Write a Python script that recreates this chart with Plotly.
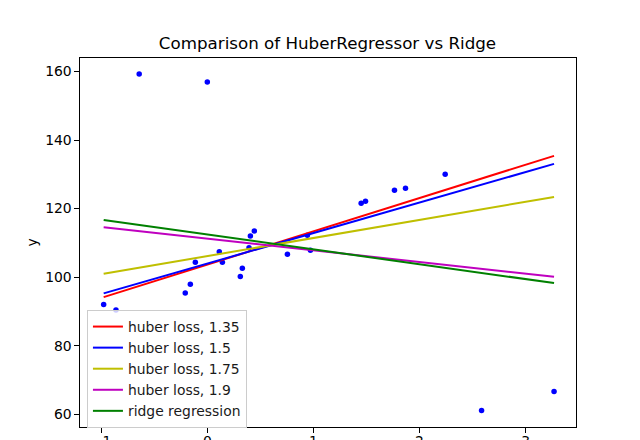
import plotly.graph_objects as go

# ---- data ----
x_points = [-0.642, 0.000, -0.977, -0.861, 2.585, 3.268, -0.160, -0.208, -0.113, 0.113,
            0.142, 0.330, 0.311, 0.393, 0.406, 0.443, 0.755, 0.943, 0.972, 1.450,
            1.491, 1.764, 1.868, 2.242]
y_points = [159.25, 156.92, 92.04, 90.38, 61.07, 66.62, 97.89, 95.34, 104.32, 107.41,
            104.32, 102.56, 100.22, 108.58, 112.00, 113.46, 106.65, 112.21, 107.82, 121.56,
            122.14, 125.36, 125.94, 130.03]

line_x = [-0.977, 3.268]
line_labels = ["huber loss, 1.35", "huber loss, 1.5", "huber loss, 1.75",
               "huber loss, 1.9", "ridge regression"]
line_y = [
    [94.18, 135.38],
    [95.26, 133.04],
    [100.98, 123.40],
    [114.54, 100.11],
    [116.68, 98.27],
]
line_colors = ["#ff0000", "#0000ff", "#bfbf00", "#bf00bf", "#008000"]

x_ticks = [-1, 0, 1, 2, 3]
y_ticks = [60, 80, 100, 120, 140, 160]

FONT = "DejaVu Sans"

fig = go.Figure()
fig.add_trace(go.Scatter(x=x_points, y=y_points, mode="markers",
                         marker=dict(color="#0000ff", size=5.5, line=dict(width=0)),
                         showlegend=False))
for lbl, ys, c in zip(line_labels, line_y, line_colors):
    fig.add_trace(go.Scatter(x=line_x, y=ys, mode="lines", name=lbl,
                             line=dict(color=c, width=2)))

axis_common = dict(showgrid=False, zeroline=False, showline=True, linecolor="black",
                   linewidth=1.1, mirror=True, ticks="outside", ticklen=4.5,
                   tickwidth=1.1, tickcolor="black", automargin=False,
                   tickfont=dict(family=FONT, size=13.9, color="black"))

fig.update_xaxes(range=[-1.20, 3.475], tickvals=x_ticks,
                 ticktext=["\u22121", "0", "1", "2", "3"], ticklabelstandoff=-3,
                 **axis_common)
fig.update_yaxes(range=[56.28, 163.93], tickvals=y_ticks, **axis_common)

fig.add_annotation(text="y", xref="paper", yref="paper", x=-0.0968, y=0.5,
                   xanchor="center", yanchor="middle", textangle=-90, showarrow=False,
                   font=dict(family=FONT, size=13.9, color="black"))

fig.update_layout(
    width=640, height=440,
    margin=dict(l=80, r=64, t=58, b=13),
    paper_bgcolor="white", plot_bgcolor="white",
    title=dict(text="Comparison of HuberRegressor vs Ridge", x=0.5117, xanchor="center",
               yref="container", y=1 - 43 / 440, yanchor="middle",
               font=dict(family=FONT, size=16.7, color="black")),
    legend=dict(x=0.014, y=0.317, xanchor="left", yanchor="top",
                bgcolor="rgba(255,255,255,0.8)", bordercolor="#cccccc", borderwidth=1,
                font=dict(family=FONT, size=13.9, color="#1a1a1a")),
    showlegend=True,
)

fig.write_html("out.html")
